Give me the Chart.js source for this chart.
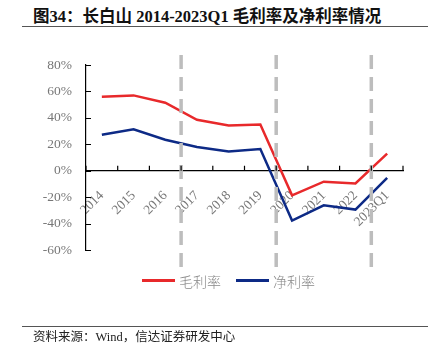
<!DOCTYPE html>
<html>
<head>
<meta charset="utf-8">
<script src="https://cdn.jsdelivr.net/npm/chart.js@4/dist/chart.umd.min.js"></script>
<style>
  body { margin: 0; background: #fff; }
  .wrap { position: relative; width: 441px; height: 353px; overflow: hidden; }
  .title {
    position: absolute; left: 33px; top: 3px;
    font: bold 16.5px "Liberation Serif", "Noto Sans CJK SC", serif; color: #111;
    white-space: nowrap;
  }
  .rule { position: absolute; left: 22px; width: 406px; height: 0; border-top: 1.5px solid #555; }
  .source {
    position: absolute; left: 33px; top: 326px;
    font: 12.5px "Liberation Serif", "Noto Sans CJK SC", serif; color: #222;
    white-space: nowrap;
  }
  .legend {
    position: absolute; top: 266px; left: 142px;
    font: 300 14px "Noto Sans CJK SC", sans-serif; color: #888; white-space: nowrap;
  }
  .legend span.item { display: inline-flex; align-items: center; margin-right: 15px; }
  .legend span.line { display: inline-block; width: 33px; height: 3px; margin-right: 4px; }
  canvas { position: absolute; left: 0; top: 0; }
</style>
</head>
<body>
<div class="wrap">
  <div class="title">图34：长白山 2014-2023Q1 毛利率及净利率情况</div>
  <div class="rule" style="top:26px"></div>
  <canvas id="chart" width="441" height="353"></canvas>
  <div class="legend" id="legend"></div>
  <div class="rule" style="top:326px"></div>
  <div class="source">资料来源：Wind，信达证券研发中心</div>
</div>
<script>
const categories = ['2014', '2015', '2016', '2017', '2018', '2019', '2020', '2021', '2022', '2023Q1'];
const grossMargin = [56, 57, 51.5, 38.5, 34.2, 35, -18.6, -8.3, -9.6, 13];
const netMargin = [27.2, 31.4, 23.4, 17.9, 14.6, 16.4, -37.7, -26.2, -29.4, -5.5];
const yTicks = [80, 60, 40, 20, 0, -20, -40, -60];
// dashed separators sit after these categories
const splitAfter = ['2016', '2019', '2022'];

const seriesNames = ['毛利率', '净利率'];
const seriesColors = ['#e8292b', '#0d2a86'];

const innerTicks = {
  id: 'innerTicks',
  afterDraw(chart) {
    const { ctx, scales: { x, y } } = chart;
    ctx.save();
    ctx.strokeStyle = '#000';
    ctx.lineWidth = 1.2;
    ctx.beginPath();
    yTicks.forEach(v => {
      const py = Math.round(y.getPixelForValue(v)) + 0.5;
      ctx.moveTo(x.left, py);
      ctx.lineTo(x.left + 5, py);
    });
    const y0 = y.getPixelForValue(0);
    for (let i = 0; i <= categories.length; i++) {
      const px = x.left + (x.right - x.left) * i / categories.length;
      ctx.moveTo(px, y0);
      ctx.lineTo(px, y0 - 5);
    }
    ctx.stroke();
    ctx.restore();
  }
};

const splitLines = {
  id: 'splitLines',
  afterDatasetsDraw(chart) {
    const { ctx, scales: { x } } = chart;
    ctx.save();
    ctx.strokeStyle = '#bdbdbd';
    ctx.lineWidth = 3.5;
    ctx.setLineDash([14, 8]);
    splitAfter.forEach(label => {
      const i = categories.indexOf(label);
      const px = (x.getPixelForValue(i) + x.getPixelForValue(i + 1)) / 2;
      ctx.beginPath();
      ctx.moveTo(px, 55);
      ctx.lineTo(px, 268);
      ctx.stroke();
    });
    ctx.restore();
  }
};

const axisFont = { family: '"Liberation Serif", "Times New Roman", serif', size: 13.5 };

new Chart(document.getElementById('chart'), {
  type: 'line',
  data: {
    labels: categories,
    datasets: [
      { label: seriesNames[0], data: grossMargin, borderColor: seriesColors[0], borderWidth: 2.5, pointRadius: 0, tension: 0 },
      { label: seriesNames[1], data: netMargin, borderColor: seriesColors[1], borderWidth: 2.5, pointRadius: 0, tension: 0 }
    ]
  },
  options: {
    responsive: false,
    animation: false,
    layout: { padding: { top: 65, bottom: 103, left: 0, right: 38 } },
    plugins: { legend: { display: false }, tooltip: { enabled: false } },
    scales: {
      x: {
        position: { y: 0 },
        offset: true,
        grid: { display: false, drawTicks: false },
        border: { display: true, color: '#000', width: 1.2 },
        ticks: { color: '#777', font: axisFont, maxRotation: 45, minRotation: 45, padding: 17, autoSkip: false }
      },
      y: {
        min: -60,
        max: 80,
        afterFit(s) { s.width = 86; },
        afterBuildTicks(s) { s.ticks = yTicks.map(v => ({ value: v })); },
        grid: { display: false, drawTicks: false },
        border: { display: true, color: '#000', width: 1.2 },
        ticks: { color: '#777', font: axisFont, padding: 14, callback: v => v + '%' }
      }
    }
  },
  plugins: [innerTicks, splitLines]
});

document.getElementById('legend').innerHTML = seriesNames.map((n, i) =>
  `<span class="item"><span class="line" style="background:${seriesColors[i]}"></span>${n}</span>`
).join('');
</script>
</body>
</html>
